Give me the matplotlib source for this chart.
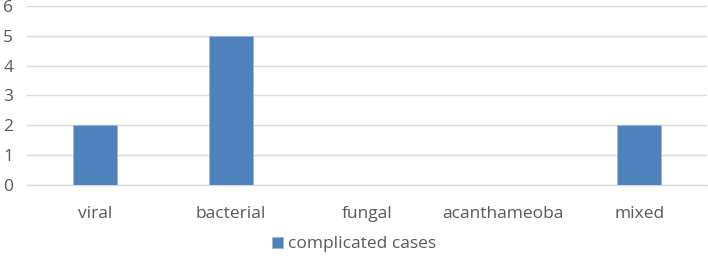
import matplotlib

matplotlib.use("Agg")
import matplotlib.pyplot as plt
import numpy as np

categories = ["viral", "bacterial", "fungal", "acanthameoba", "mixed"]
complicated = [2, 5, 0, 0, 2]
series_name = "complicated cases"

BLUE = "#4f81bd"
GRID = "#d9d9d9"
INK = "#595959"

plt.rcParams.update({
    "font.family": ["Open Sans", "DejaVu Sans"],
    "font.size": 12.5,
})

fig = plt.figure(figsize=(7.08, 2.56), dpi=100)
ax = fig.add_axes([0.038, 0.277, 0.961, 0.7])

x = np.arange(len(categories))
ax.bar(x, complicated, width=0.32, color=BLUE, edgecolor="#9bb7d9", linewidth=0.6,
       label=series_name, zorder=3)

ax.set_xlim(-0.5, len(categories) - 0.5)
ax.set_ylim(0, 6)
ax.set_yticks(range(7))
ax.set_xticks(x)
ax.set_xticklabels(categories)
ax.tick_params(length=0, colors=INK, labelsize=12.5)
ax.tick_params(axis="x", pad=15)
ax.tick_params(axis="y", pad=17)
for lab in ax.get_yticklabels():
    lab.set_horizontalalignment("left")
ax.grid(axis="y", color=GRID, lw=1, zorder=0)
for side in ("top", "right", "left"):
    ax.spines[side].set_visible(False)
ax.spines["bottom"].set_color(GRID)
ax.spines["bottom"].set_linewidth(1)

fig.legend(loc="center", bbox_to_anchor=(0.5, 0.045), frameon=False,
           handlelength=0.6, handleheight=0.6, handletextpad=0.3,
           labelcolor=INK, fontsize=12.5)

fig.savefig("out.png", dpi=100)
